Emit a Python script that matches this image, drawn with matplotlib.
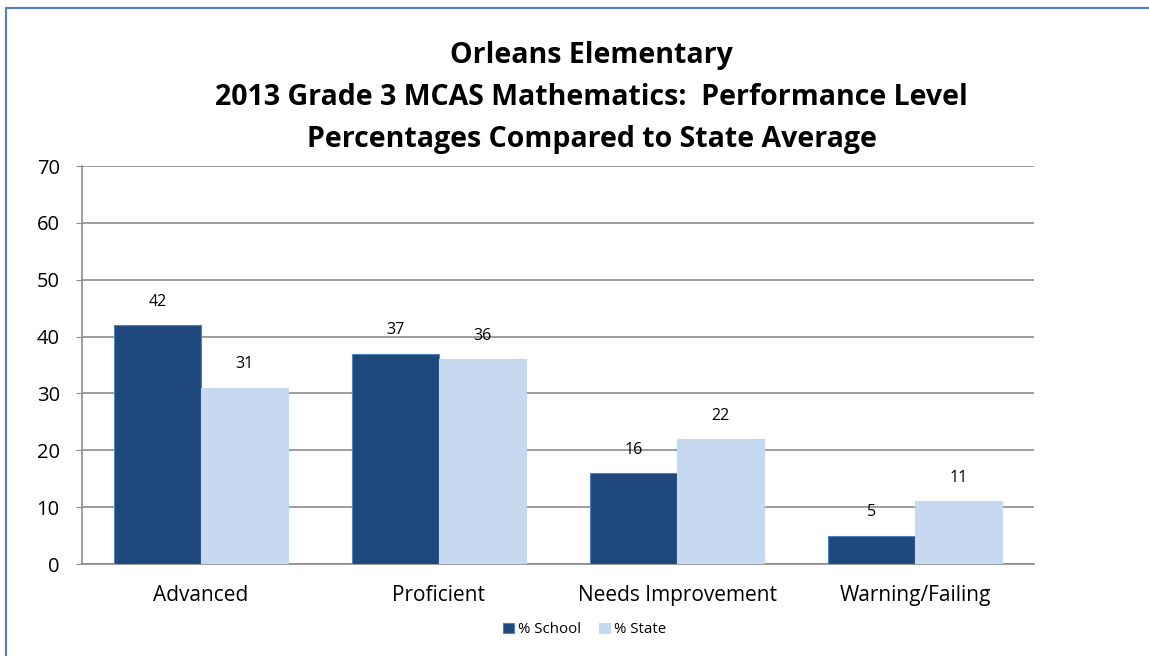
import matplotlib as mpl
import numpy as np

mpl.use("Agg")
import matplotlib.pyplot as plt
from matplotlib.patches import Rectangle

categories = ["Advanced", "Proficient", "Needs Improvement", "Warning/Failing"]
school = [42, 37, 16, 5]
state = [31, 36, 22, 11]
series_names = ["% School", "% State"]
title_lines = [
    "Orleans Elementary",
    "2013 Grade 3 MCAS Mathematics:  Performance Level",
    "Percentages Compared to State Average",
]

plt.rcParams["font.family"] = ["Open Sans", "DejaVu Sans"]

fig = plt.figure(figsize=(11.49, 6.56), dpi=100)
ax = fig.add_axes([82 / 1149, 92 / 656, 952 / 1149, 398 / 656])

x = np.arange(len(categories))
w = 0.365
b1 = ax.bar(x - w / 2, school, w, color="#1F497D", edgecolor="#4F81BD", linewidth=0.8,
            label=series_names[0], zorder=3)
b2 = ax.bar(x + w / 2, state, w, color="#C6D9F1", edgecolor="#C6D9F1", linewidth=0.8,
            label=series_names[1], zorder=3)
for bars in (b1, b2):
    ax.bar_label(bars, padding=11, fontsize=11.5)

ax.set_xlim(-0.5, len(categories) - 0.5)
ax.set_ylim(0, 70)
ax.set_yticks(range(0, 71, 10))
ax.set_xticks(x, categories)
ax.tick_params(axis="x", length=0, labelsize=15, pad=15)
ax.tick_params(axis="y", length=4, color="#8C8C8C", labelsize=14.5, pad=12)
ax.grid(axis="y", color="#8C8C8C", linewidth=1.2, zorder=0)
for side in ("top", "right"):
    ax.spines[side].set_visible(False)
for side in ("left", "bottom"):
    ax.spines[side].set_color("#8C8C8C")
    ax.spines[side].set_linewidth(1.2)

fig.text(0.515, 1 - 147 / 656, "\n".join(title_lines), ha="center", va="baseline",
         fontsize=20.5, fontweight="bold", linespacing=1.58)

ax.legend(loc="center", bbox_to_anchor=(0.528, -0.165), ncol=2, frameon=False,
          fontsize=10.8, handlelength=0.7, handleheight=0.7, handletextpad=0.3,
          columnspacing=1.2)

fig.patches.append(Rectangle((6 / 1149, -0.1), 1.2, 1 - 8 / 656 + 0.1,
                             transform=fig.transFigure, fill=False,
                             edgecolor="#4F81BD", linewidth=1.5))

fig.savefig("out.png", dpi=100)
